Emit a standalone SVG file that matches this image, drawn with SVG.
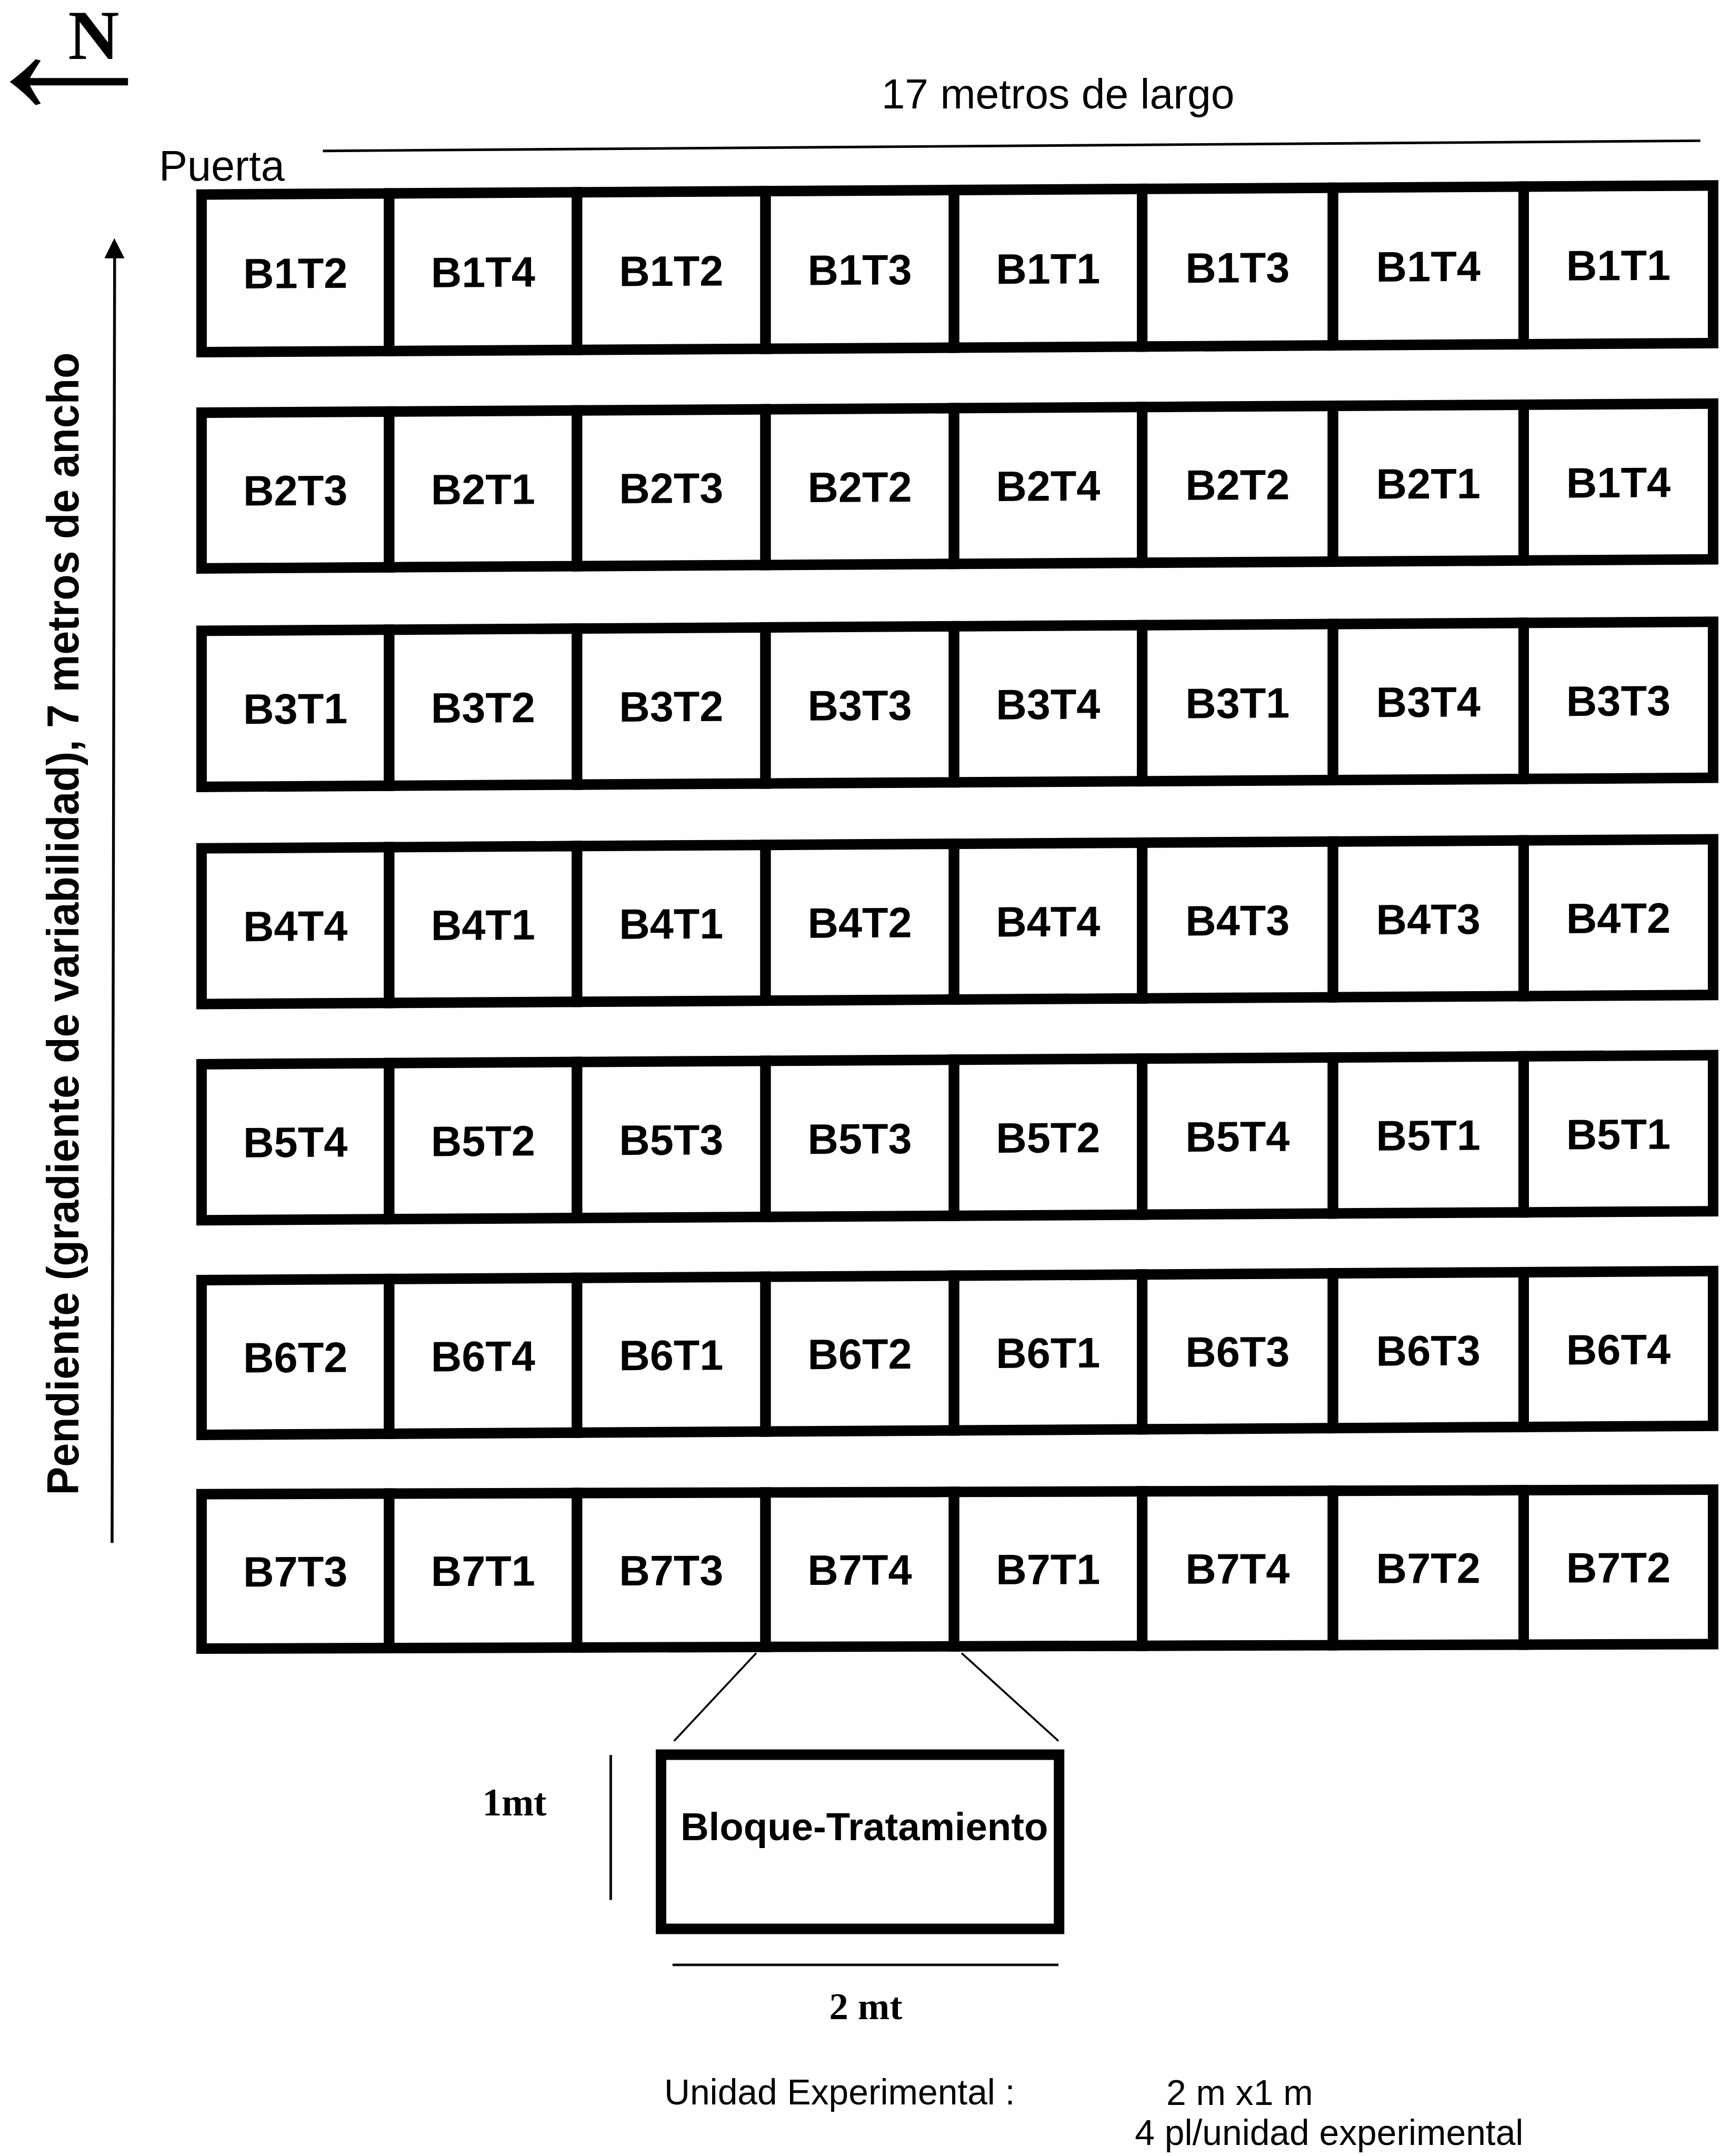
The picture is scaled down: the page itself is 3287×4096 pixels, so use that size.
<svg xmlns="http://www.w3.org/2000/svg" width="3287" height="4096" viewBox="0 0 3287 4096">
<style>
.cell{fill:none;stroke:#000;stroke-width:33}
.lbl{font-family:"Liberation Sans",Arial,sans-serif;font-weight:bold;font-size:134px;text-anchor:middle;fill:#000}
.sans{font-family:"Liberation Sans",Arial,sans-serif;fill:#000}
.serif{font-family:"Liberation Serif","Times New Roman",serif;font-weight:bold;fill:#000}
.ln{stroke:#000;fill:none;stroke-linecap:butt}
</style>
<rect width="3287" height="4096" fill="#fff"/>
<g transform="scale(0.605)">
<g id="north">
<text class="serif" x="214" y="185" font-size="222">N</text>
<path d="M31 257 Q78 222 112 186 L128 190 Q104 226 94 245 L402 245 L402 268 L94 268 Q104 288 128 325 L112 330 Q78 292 31 257 Z" fill="#000"/>
</g>
<g id="puerta"><text class="sans" x="499" y="567" font-size="134">Puerta</text></g>
<g id="largo">
<text class="sans" x="2768" y="340" font-size="133">17 metros de largo</text>
<line class="ln" x1="1014" y1="474" x2="5340" y2="442" stroke-width="8"/>
</g>
<g id="ancho">
<line class="ln" x1="352" y1="4845" x2="360" y2="805" stroke-width="9"/>
<polygon points="359,748 328,811 391,811" fill="#000"/>
<text class="sans" font-weight="bold" font-size="142" transform="translate(247 4695) rotate(-90)" textLength="3588" lengthAdjust="spacingAndGlyphs">Pendiente (gradiente de variabilidad), 7 metros de ancho</text>
</g>
<g id="row1" transform="matrix(1 -0.006 0 1 0 3.7)">
<g id="r1c1"><rect class="cell" x="633" y="611" width="589" height="495"/><text class="lbl" x="927.5" y="906.5">B1T2</text></g>
<g id="r1c2"><rect class="cell" x="1222" y="611" width="590" height="495"/><text class="lbl" x="1517" y="906.5">B1T4</text></g>
<g id="r1c3"><rect class="cell" x="1812" y="611" width="592" height="495"/><text class="lbl" x="2108" y="906.5">B1T2</text></g>
<g id="r1c4"><rect class="cell" x="2404" y="611" width="592" height="495"/><text class="lbl" x="2700" y="906.5">B1T3</text></g>
<g id="r1c5"><rect class="cell" x="2996" y="611" width="591" height="495"/><text class="lbl" x="3291.5" y="906.5">B1T1</text></g>
<g id="r1c6"><rect class="cell" x="3587" y="611" width="599" height="495"/><text class="lbl" x="3886.5" y="906.5">B1T3</text></g>
<g id="r1c7"><rect class="cell" x="4186" y="611" width="599" height="495"/><text class="lbl" x="4485.5" y="906.5">B1T4</text></g>
<g id="r1c8"><rect class="cell" x="4785" y="611" width="595" height="495"/><text class="lbl" x="5082.5" y="906.5">B1T1</text></g>
</g>
<g id="row2" transform="matrix(1 -0.006 0 1 0 3.7)">
<g id="r2c1"><rect class="cell" x="633" y="1296" width="589" height="489"/><text class="lbl" x="927.5" y="1588.5">B2T3</text></g>
<g id="r2c2"><rect class="cell" x="1222" y="1296" width="590" height="489"/><text class="lbl" x="1517" y="1588.5">B2T1</text></g>
<g id="r2c3"><rect class="cell" x="1812" y="1296" width="592" height="489"/><text class="lbl" x="2108" y="1588.5">B2T3</text></g>
<g id="r2c4"><rect class="cell" x="2404" y="1296" width="592" height="489"/><text class="lbl" x="2700" y="1588.5">B2T2</text></g>
<g id="r2c5"><rect class="cell" x="2996" y="1296" width="591" height="489"/><text class="lbl" x="3291.5" y="1588.5">B2T4</text></g>
<g id="r2c6"><rect class="cell" x="3587" y="1296" width="599" height="489"/><text class="lbl" x="3886.5" y="1588.5">B2T2</text></g>
<g id="r2c7"><rect class="cell" x="4186" y="1296" width="599" height="489"/><text class="lbl" x="4485.5" y="1588.5">B2T1</text></g>
<g id="r2c8"><rect class="cell" x="4785" y="1296" width="595" height="489"/><text class="lbl" x="5082.5" y="1588.5">B1T4</text></g>
</g>
<g id="row3" transform="matrix(1 -0.006 0 1 0 3.7)">
<g id="r3c1"><rect class="cell" x="633" y="1981" width="589" height="490"/><text class="lbl" x="927.5" y="2274">B3T1</text></g>
<g id="r3c2"><rect class="cell" x="1222" y="1981" width="590" height="490"/><text class="lbl" x="1517" y="2274">B3T2</text></g>
<g id="r3c3"><rect class="cell" x="1812" y="1981" width="592" height="490"/><text class="lbl" x="2108" y="2274">B3T2</text></g>
<g id="r3c4"><rect class="cell" x="2404" y="1981" width="592" height="490"/><text class="lbl" x="2700" y="2274">B3T3</text></g>
<g id="r3c5"><rect class="cell" x="2996" y="1981" width="591" height="490"/><text class="lbl" x="3291.5" y="2274">B3T4</text></g>
<g id="r3c6"><rect class="cell" x="3587" y="1981" width="599" height="490"/><text class="lbl" x="3886.5" y="2274">B3T1</text></g>
<g id="r3c7"><rect class="cell" x="4186" y="1981" width="599" height="490"/><text class="lbl" x="4485.5" y="2274">B3T4</text></g>
<g id="r3c8"><rect class="cell" x="4785" y="1981" width="595" height="490"/><text class="lbl" x="5082.5" y="2274">B3T3</text></g>
</g>
<g id="row4" transform="matrix(1 -0.006 0 1 0 3.7)">
<g id="r4c1"><rect class="cell" x="633" y="2664" width="589" height="489"/><text class="lbl" x="927.5" y="2956.5">B4T4</text></g>
<g id="r4c2"><rect class="cell" x="1222" y="2664" width="590" height="489"/><text class="lbl" x="1517" y="2956.5">B4T1</text></g>
<g id="r4c3"><rect class="cell" x="1812" y="2664" width="592" height="489"/><text class="lbl" x="2108" y="2956.5">B4T1</text></g>
<g id="r4c4"><rect class="cell" x="2404" y="2664" width="592" height="489"/><text class="lbl" x="2700" y="2956.5">B4T2</text></g>
<g id="r4c5"><rect class="cell" x="2996" y="2664" width="591" height="489"/><text class="lbl" x="3291.5" y="2956.5">B4T4</text></g>
<g id="r4c6"><rect class="cell" x="3587" y="2664" width="599" height="489"/><text class="lbl" x="3886.5" y="2956.5">B4T3</text></g>
<g id="r4c7"><rect class="cell" x="4186" y="2664" width="599" height="489"/><text class="lbl" x="4485.5" y="2956.5">B4T3</text></g>
<g id="r4c8"><rect class="cell" x="4785" y="2664" width="595" height="489"/><text class="lbl" x="5082.5" y="2956.5">B4T2</text></g>
</g>
<g id="row5" transform="matrix(1 -0.006 0 1 0 3.7)">
<g id="r5c1"><rect class="cell" x="633" y="3342" width="589" height="490"/><text class="lbl" x="927.5" y="3635">B5T4</text></g>
<g id="r5c2"><rect class="cell" x="1222" y="3342" width="590" height="490"/><text class="lbl" x="1517" y="3635">B5T2</text></g>
<g id="r5c3"><rect class="cell" x="1812" y="3342" width="592" height="490"/><text class="lbl" x="2108" y="3635">B5T3</text></g>
<g id="r5c4"><rect class="cell" x="2404" y="3342" width="592" height="490"/><text class="lbl" x="2700" y="3635">B5T3</text></g>
<g id="r5c5"><rect class="cell" x="2996" y="3342" width="591" height="490"/><text class="lbl" x="3291.5" y="3635">B5T2</text></g>
<g id="r5c6"><rect class="cell" x="3587" y="3342" width="599" height="490"/><text class="lbl" x="3886.5" y="3635">B5T4</text></g>
<g id="r5c7"><rect class="cell" x="4186" y="3342" width="599" height="490"/><text class="lbl" x="4485.5" y="3635">B5T1</text></g>
<g id="r5c8"><rect class="cell" x="4785" y="3342" width="595" height="490"/><text class="lbl" x="5082.5" y="3635">B5T1</text></g>
</g>
<g id="row6" transform="matrix(1 -0.006 0 1 0 3.7)">
<g id="r6c1"><rect class="cell" x="633" y="4020" width="589" height="486"/><text class="lbl" x="927.5" y="4311">B6T2</text></g>
<g id="r6c2"><rect class="cell" x="1222" y="4020" width="590" height="486"/><text class="lbl" x="1517" y="4311">B6T4</text></g>
<g id="r6c3"><rect class="cell" x="1812" y="4020" width="592" height="486"/><text class="lbl" x="2108" y="4311">B6T1</text></g>
<g id="r6c4"><rect class="cell" x="2404" y="4020" width="592" height="486"/><text class="lbl" x="2700" y="4311">B6T2</text></g>
<g id="r6c5"><rect class="cell" x="2996" y="4020" width="591" height="486"/><text class="lbl" x="3291.5" y="4311">B6T1</text></g>
<g id="r6c6"><rect class="cell" x="3587" y="4020" width="599" height="486"/><text class="lbl" x="3886.5" y="4311">B6T3</text></g>
<g id="r6c7"><rect class="cell" x="4186" y="4020" width="599" height="486"/><text class="lbl" x="4485.5" y="4311">B6T3</text></g>
<g id="r6c8"><rect class="cell" x="4785" y="4020" width="595" height="486"/><text class="lbl" x="5082.5" y="4311">B6T4</text></g>
</g>
<g id="row7" transform="matrix(1 -0.003 0 1 0 1.85)">
<g id="r7c1"><rect class="cell" x="633" y="4692" width="589" height="485"/><text class="lbl" x="927.5" y="4982.5">B7T3</text></g>
<g id="r7c2"><rect class="cell" x="1222" y="4692" width="590" height="485"/><text class="lbl" x="1517" y="4982.5">B7T1</text></g>
<g id="r7c3"><rect class="cell" x="1812" y="4692" width="592" height="485"/><text class="lbl" x="2108" y="4982.5">B7T3</text></g>
<g id="r7c4"><rect class="cell" x="2404" y="4692" width="592" height="485"/><text class="lbl" x="2700" y="4982.5">B7T4</text></g>
<g id="r7c5"><rect class="cell" x="2996" y="4692" width="591" height="485"/><text class="lbl" x="3291.5" y="4982.5">B7T1</text></g>
<g id="r7c6"><rect class="cell" x="3587" y="4692" width="599" height="485"/><text class="lbl" x="3886.5" y="4982.5">B7T4</text></g>
<g id="r7c7"><rect class="cell" x="4186" y="4692" width="599" height="485"/><text class="lbl" x="4485.5" y="4982.5">B7T2</text></g>
<g id="r7c8"><rect class="cell" x="4785" y="4692" width="595" height="485"/><text class="lbl" x="5082.5" y="4982.5">B7T2</text></g>
</g>
<g id="connectors">
<line class="ln" x1="2375" y1="5191" x2="2117" y2="5467" stroke-width="6"/>
<line class="ln" x1="3020" y1="5191" x2="3324" y2="5467" stroke-width="6"/>
</g>
<g id="unit">
<rect class="cell" x="2076" y="5510" width="1250" height="547"/>
<text class="sans" font-weight="bold" x="2137" y="5779" font-size="123">Bloque-Tratamiento</text>
</g>
<g id="dim1mt">
<line class="ln" x1="1918" y1="5511" x2="1918" y2="5966" stroke-width="8"/>
<text class="serif" x="1515" y="5700" font-size="121">1mt</text>
</g>
<g id="dim2mt">
<line class="ln" x1="2112" y1="6170" x2="3324" y2="6170" stroke-width="8"/>
<text class="serif" x="2604" y="6340" font-size="120">2 mt</text>
</g>
<g id="legend">
<text class="sans" x="2086" y="6609" font-size="112">Unidad Experimental :</text>
<text class="sans" x="3663" y="6610" font-size="112">2 m x1 m</text>
<text class="sans" x="3564" y="6735" font-size="112">4 pl/unidad experimental</text>
</g>
</g>
</svg>
